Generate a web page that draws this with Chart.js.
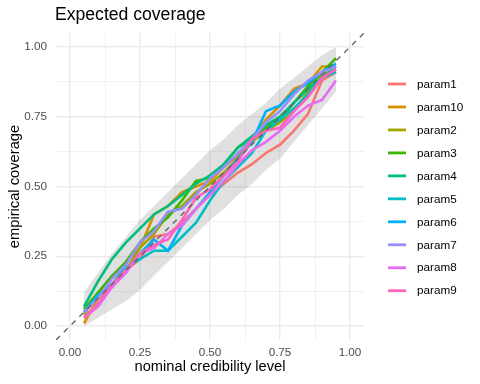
<!DOCTYPE html>
<html>
<head>
<meta charset="utf-8">
<script src="https://cdn.jsdelivr.net/npm/chart.js@4"></script>
<style>
  body { margin: 0; background: #fff; }
  #wrap { width: 480px; height: 384px; position: relative; }
</style>
</head>
<body>
<div id="wrap"><canvas id="myChart"></canvas></div>
<script>
// data
const levels = [0.05, 0.10, 0.15, 0.20, 0.25, 0.30, 0.35, 0.40, 0.45, 0.50, 0.55, 0.60, 0.65, 0.70, 0.75, 0.80, 0.85, 0.90, 0.95];
const bandUpper = [0.12, 0.19, 0.26, 0.32, 0.38, 0.43, 0.48, 0.53, 0.58, 0.63, 0.67, 0.72, 0.76, 0.80, 0.85, 0.89, 0.93, 0.97, 1.00];
const bandLower = [0.00, 0.03, 0.06, 0.09, 0.13, 0.18, 0.23, 0.28, 0.33, 0.38, 0.42, 0.47, 0.51, 0.56, 0.60, 0.66, 0.72, 0.78, 0.84];

const param1  = [0.03, 0.08, 0.14, 0.20, 0.24, 0.32, 0.33, 0.37, 0.42, 0.47, 0.51, 0.55, 0.58, 0.62, 0.65, 0.70, 0.76, 0.88, 0.91];
const param10 = [0.01, 0.10, 0.14, 0.23, 0.28, 0.40, 0.43, 0.48, 0.50, 0.52, 0.57, 0.61, 0.67, 0.74, 0.79, 0.85, 0.87, 0.93, 0.93];
const param2  = [0.04, 0.12, 0.14, 0.20, 0.28, 0.33, 0.40, 0.43, 0.48, 0.51, 0.55, 0.60, 0.66, 0.70, 0.73, 0.77, 0.84, 0.90, 0.92];
const param3  = [0.06, 0.12, 0.18, 0.23, 0.30, 0.35, 0.39, 0.45, 0.52, 0.53, 0.58, 0.64, 0.67, 0.71, 0.74, 0.80, 0.86, 0.91, 0.96];
const param4  = [0.07, 0.16, 0.24, 0.30, 0.35, 0.40, 0.43, 0.47, 0.51, 0.54, 0.58, 0.64, 0.68, 0.72, 0.75, 0.80, 0.85, 0.89, 0.93];
const param5  = [0.05, 0.11, 0.15, 0.21, 0.24, 0.27, 0.27, 0.32, 0.37, 0.45, 0.52, 0.57, 0.62, 0.70, 0.74, 0.78, 0.83, 0.89, 0.91];
const param6  = [0.05, 0.11, 0.15, 0.20, 0.26, 0.31, 0.27, 0.36, 0.42, 0.48, 0.54, 0.60, 0.66, 0.77, 0.79, 0.84, 0.87, 0.91, 0.94];
const param7  = [0.05, 0.10, 0.17, 0.22, 0.30, 0.34, 0.41, 0.42, 0.47, 0.53, 0.57, 0.62, 0.67, 0.73, 0.77, 0.83, 0.88, 0.91, 0.93];
const param8  = [0.03, 0.07, 0.14, 0.19, 0.26, 0.28, 0.33, 0.36, 0.42, 0.47, 0.52, 0.58, 0.63, 0.66, 0.70, 0.75, 0.79, 0.81, 0.88];
const param9  = [0.03, 0.08, 0.15, 0.20, 0.26, 0.29, 0.31, 0.38, 0.46, 0.49, 0.54, 0.59, 0.67, 0.70, 0.71, 0.77, 0.82, 0.89, 0.92];

const seriesNames = ['param1', 'param10', 'param2', 'param3', 'param4', 'param5', 'param6', 'param7', 'param8', 'param9'];
const seriesValues = [param1, param10, param2, param3, param4, param5, param6, param7, param8, param9];
const seriesColors = ['#F8766D', '#D89000', '#A3A500', '#39B600', '#00BF7D', '#00BFC4', '#00B0F6', '#9590FF', '#E76BF3', '#FF62BC'];

const gridTicks = [0, 0.125, 0.25, 0.375, 0.5, 0.625, 0.75, 0.875, 1];
const diagonal = [-0.05, 1.05];

const FONT = "'Liberation Sans', Arial, sans-serif";
const pts = arr => arr.map((v, i) => ({ x: levels[i], y: v }));

// datasets
const datasets = [];
// diagonal on top
datasets.push({
  label: 'diag',
  data: diagonal.map(v => ({ x: v, y: v })),
  borderColor: '#666666',
  borderWidth: 1.4,
  borderDash: [5.5, 5.5],
  pointRadius: 0,
  fill: false,
  order: 0
});
seriesNames.forEach((name, i) => {
  datasets.push({
    label: name,
    data: pts(seriesValues[i]),
    borderColor: seriesColors[i],
    backgroundColor: seriesColors[i],
    borderWidth: 2.6,
    pointRadius: 0,
    fill: false,
    tension: 0,
    order: 10 - i
  });
});
const lowerIndex = datasets.length;
datasets.push({
  label: 'lower',
  data: pts(bandLower),
  borderWidth: 0,
  pointRadius: 0,
  fill: false,
  order: 30
});
datasets.push({
  label: 'upper',
  data: pts(bandUpper),
  borderWidth: 0,
  pointRadius: 0,
  backgroundColor: 'rgba(130,130,130,0.25)',
  fill: { target: lowerIndex },
  order: 31
});

// title + legend drawn by hand, ggplot style
const extras = {
  id: 'extras',
  afterDraw(chart) {
    const ctx = chart.ctx;
    ctx.save();
    ctx.fillStyle = '#000';
    ctx.font = '17.6px ' + FONT;
    ctx.textBaseline = 'middle';
    ctx.textAlign = 'left';
    ctx.fillText('Expected coverage', 55, 15.5);

    ctx.font = '11.7px ' + FONT;
    seriesNames.forEach((name, i) => {
      const y = 84 + i * 22.97;
      ctx.strokeStyle = seriesColors[i];
      ctx.lineWidth = 2.8;
      ctx.beginPath();
      ctx.moveTo(388, y);
      ctx.lineTo(406, y);
      ctx.stroke();
      ctx.fillStyle = '#000';
      ctx.fillText(name, 417, y + 0.5);
    });
    ctx.restore();
  }
};

const axisTicks = scale => {
  scale.ticks = gridTicks.map(v => ({ value: v, major: v * 4 === Math.round(v * 4) }));
};
const gridWidth = c => (c.tick && c.tick.value * 4 === Math.round(c.tick.value * 4)) ? 1.4 : 0.7;

const config = {
  type: 'line',
  data: { datasets: datasets },
  options: {
    responsive: true,
    maintainAspectRatio: false,
    animation: false,
    layout: { padding: { left: 6, right: 116, top: 33, bottom: 8 } },
    plugins: {
      legend: { display: false },
      tooltip: { enabled: false },
      title: { display: false }
    },
    scales: {
      x: {
        type: 'linear',
        min: -0.05,
        max: 1.05,
        afterBuildTicks: axisTicks,
        afterFit: s => { s.height = 36; },
        border: { display: false },
        grid: { color: '#EBEBEB', lineWidth: gridWidth, drawTicks: false },
        ticks: {
          autoSkip: false,
          maxRotation: 0,
          padding: 6,
          color: '#4D4D4D',
          font: { family: FONT, size: 11.7 },
          callback: v => (v * 4 === Math.round(v * 4)) ? v.toFixed(2) : ''
        },
        title: {
          display: true,
          text: 'nominal credibility level',
          color: '#000',
          padding: 0,
          font: { family: FONT, size: 14.7 }
        }
      },
      y: {
        type: 'linear',
        min: -0.05,
        max: 1.05,
        afterBuildTicks: axisTicks,
        afterFit: s => { s.width = 50; },
        border: { display: false },
        grid: { color: '#EBEBEB', lineWidth: gridWidth, drawTicks: false },
        ticks: {
          autoSkip: false,
          padding: 9,
          color: '#4D4D4D',
          font: { family: FONT, size: 11.7 },
          callback: v => (v * 4 === Math.round(v * 4)) ? v.toFixed(2) : ''
        },
        title: {
          display: true,
          text: 'empirical coverage',
          color: '#000',
          padding: 0,
          font: { family: FONT, size: 14.7 }
        }
      }
    }
  },
  plugins: [extras]
};

const myChart = new Chart(document.getElementById('myChart'), config);
</script>
</body>
</html>
